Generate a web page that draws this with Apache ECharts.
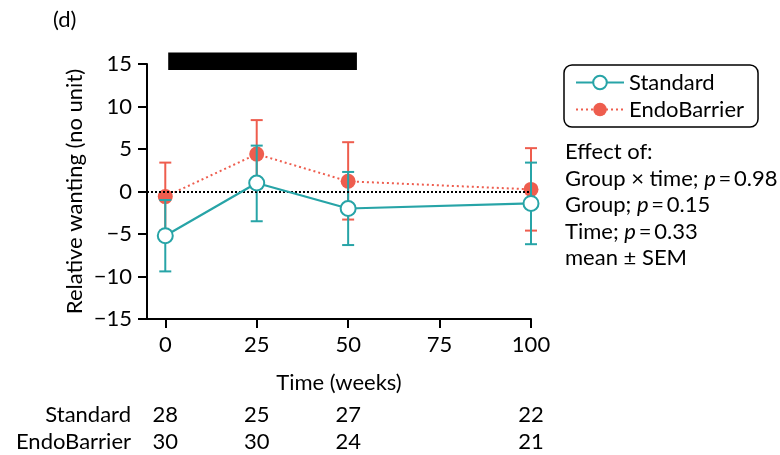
<!DOCTYPE html>
<html>
<head>
<meta charset="utf-8">
<script src="https://cdn.jsdelivr.net/npm/echarts@6/dist/echarts.min.js"></script>
<style>
html,body{margin:0;padding:0;background:#fff;}
#chart{width:780px;height:455px;}
</style>
</head>
<body>
<div id="chart"></div>
<script>
// ---- data ----
const weeks = [0, 25, 50, 100];
const xTicks = [0, 25, 50, 75, 100];
const standardMean = [-5.2, 1.0, -2.0, -1.4];
const standardLow  = [-9.4, -3.5, -6.3, -6.2];
const standardHigh = [-1.0, 5.4, 2.3, 3.4];
const endoMean = [-0.6, 4.4, 1.2, 0.25];
const endoLow  = [-4.6, 0.4, -3.3, -4.6];
const endoHigh = [3.4, 8.4, 5.8, 5.1];
const treatmentBar = [[0.8, 52.4, 14.3, 16.35]]; // [xStart, xEnd, yLow, yHigh]
const nStandard = [28, 25, 27, 22];
const nEndo = [30, 30, 24, 21];
const statsLines = [
  ['Effect of:', null],
  ['Group \u00d7 time; ', '0.98'],
  ['Group; ', '0.15'],
  ['Time; ', '0.33'],
  ['mean \u00b1 SEM', null]
];

const TEAL = '#27a4a7';
const RED = '#ee5d4e';
const FONT = 'Lato';
const FS = 22;

function errData(mean, lo, hi) {
  return weeks.map((w, i) => [w, lo[i], hi[i]]);
}
function errRender(color) {
  return function (params, api) {
    const x = api.value(0);
    const p1 = api.coord([x, api.value(1)]);
    const p2 = api.coord([x, api.value(2)]);
    const w = 6;
    const st = { stroke: color, lineWidth: 2 };
    return {
      type: 'group',
      children: [
        { type: 'line', shape: { x1: p1[0], y1: p1[1], x2: p2[0], y2: p2[1] }, style: st },
        { type: 'line', shape: { x1: p1[0] - w, y1: p1[1], x2: p1[0] + w, y2: p1[1] }, style: st },
        { type: 'line', shape: { x1: p2[0] - w, y1: p2[1], x2: p2[0] + w, y2: p2[1] }, style: st }
      ]
    };
  };
}

const chart = echarts.init(document.getElementById('chart'), null, { renderer: 'canvas' });

const option = {
  animation: false,
  textStyle: { fontFamily: FONT, color: '#000' },
  grid: { left: 147, right: 249, top: 64, bottom: 136 },
  legend: {
    left: 564, top: 65,
    orient: 'vertical',
    data: ['Standard', 'EndoBarrier'],
    padding: [6, 14, 6, 11],
    itemGap: 4,
    itemWidth: 48,
    itemHeight: 17,
    borderColor: '#000',
    borderWidth: 1.5,
    borderRadius: 8,
    textStyle: { fontFamily: FONT, fontSize: FS, color: '#000', lineHeight: 23 }
  },
  xAxis: {
    type: 'value',
    min: -5, max: 100,
    name: 'Time (weeks)',
    nameLocation: 'middle',
    nameGap: 53,
    nameTextStyle: { fontFamily: FONT, fontSize: FS, color: '#000' },
    axisLine: { show: true, onZero: false, lineStyle: { color: '#000', width: 2 } },
    axisTick: { show: true, length: 9, lineStyle: { color: '#000', width: 2 }, customValues: xTicks },
    axisLabel: { fontFamily: FONT, fontSize: FS, color: '#000', margin: 15, customValues: xTicks },
    splitLine: { show: false }
  },
  yAxis: {
    type: 'value',
    min: -15, max: 15, interval: 5,
    name: 'Relative wanting (no unit)',
    nameLocation: 'middle',
    nameGap: 61,
    nameTextStyle: { fontFamily: FONT, fontSize: FS, color: '#000' },
    axisLine: { show: true, onZero: false, lineStyle: { color: '#000', width: 2 } },
    axisTick: { show: true, length: 9, lineStyle: { color: '#000', width: 2 } },
    axisLabel: { fontFamily: FONT, fontSize: FS, color: '#000', margin: 15,
      formatter: v => (v < 0 ? '\u2212' + Math.abs(v) : String(v)) },
    splitLine: { show: false }
  },
  series: [
    {
      name: 'bar', type: 'custom', clip: false, z: 1,
      data: treatmentBar,
      renderItem: function (params, api) {
        const a = api.coord([api.value(0), api.value(3)]);
        const b = api.coord([api.value(1), api.value(2)]);
        return { type: 'rect', shape: { x: a[0], y: a[1], width: b[0] - a[0], height: b[1] - a[1] }, style: { fill: '#000' } };
      }
    },
    {
      name: 'zero', type: 'line', data: [], z: 1,
      markLine: {
        silent: true, symbol: ['none', 'none'], label: { show: false },
        lineStyle: { color: '#000', width: 2, type: [2, 2] },
        data: [{ yAxis: 0 }]
      }
    },
    {
      name: 'EndoBarrierErr', type: 'custom', z: 2,
      data: errData(endoMean, endoLow, endoHigh),
      renderItem: errRender(RED)
    },
    {
      name: 'EndoBarrier', type: 'line', z: 3,
      data: weeks.map((w, i) => [w, endoMean[i]]),
      symbol: 'circle', symbolSize: 15,
      itemStyle: { color: RED },
      lineStyle: { color: RED, width: 2, type: [2, 3] }
    },
    {
      name: 'StandardErr', type: 'custom', z: 4,
      data: errData(standardMean, standardLow, standardHigh),
      renderItem: errRender(TEAL)
    },
    {
      name: 'Standard', type: 'line', z: 5,
      data: weeks.map((w, i) => [w, standardMean[i]]),
      symbol: 'circle', symbolSize: 15, showAllSymbol: true,
      itemStyle: { color: '#fff', borderColor: TEAL, borderWidth: 2 },
      lineStyle: { color: TEAL, width: 2.2 }
    }
  ]
};
chart.setOption(option);

// ---- annotations ----
const graphics = [];
graphics.push({ type: 'text', x: 53, y: 20, style: { text: '(d)', font: FS + 'px ' + FONT, fill: '#000', verticalAlign: 'middle' } });

statsLines.forEach((ln, i) => {
  const y = 152 + i * 26.6;
  let txt;
  if (ln[1] !== null) {
    txt = ln[0] + '{i|p}{n|\u2009=\u2009' + ln[1] + '}';
  } else {
    txt = ln[0];
  }
  graphics.push({
    type: 'text', x: 565, y: y,
    style: {
      text: txt, font: FS + 'px ' + FONT, fill: '#000', verticalAlign: 'middle', align: 'left',
      rich: { i: { fontFamily: FONT, fontSize: FS, fontStyle: 'italic', fill: '#000' },
              n: { fontFamily: FONT, fontSize: FS, fill: '#000' } }
    }
  });
});

const rowY = [415, 441.5];
const rowNames = ['Standard', 'EndoBarrier'];
const rowVals = [nStandard, nEndo];
rowNames.forEach((nm, r) => {
  graphics.push({ type: 'text', x: 131, y: rowY[r],
    style: { text: nm, font: FS + 'px ' + FONT, fill: '#000', align: 'right', verticalAlign: 'middle' } });
  weeks.forEach((w, i) => {
    const px = chart.convertToPixel({ xAxisIndex: 0 }, w);
    graphics.push({ type: 'text', x: px, y: rowY[r],
      style: { text: String(rowVals[r][i]), font: FS + 'px ' + FONT, fill: '#000', align: 'center', verticalAlign: 'middle' } });
  });
});
chart.setOption({ graphic: graphics });
</script>
</body>
</html>
